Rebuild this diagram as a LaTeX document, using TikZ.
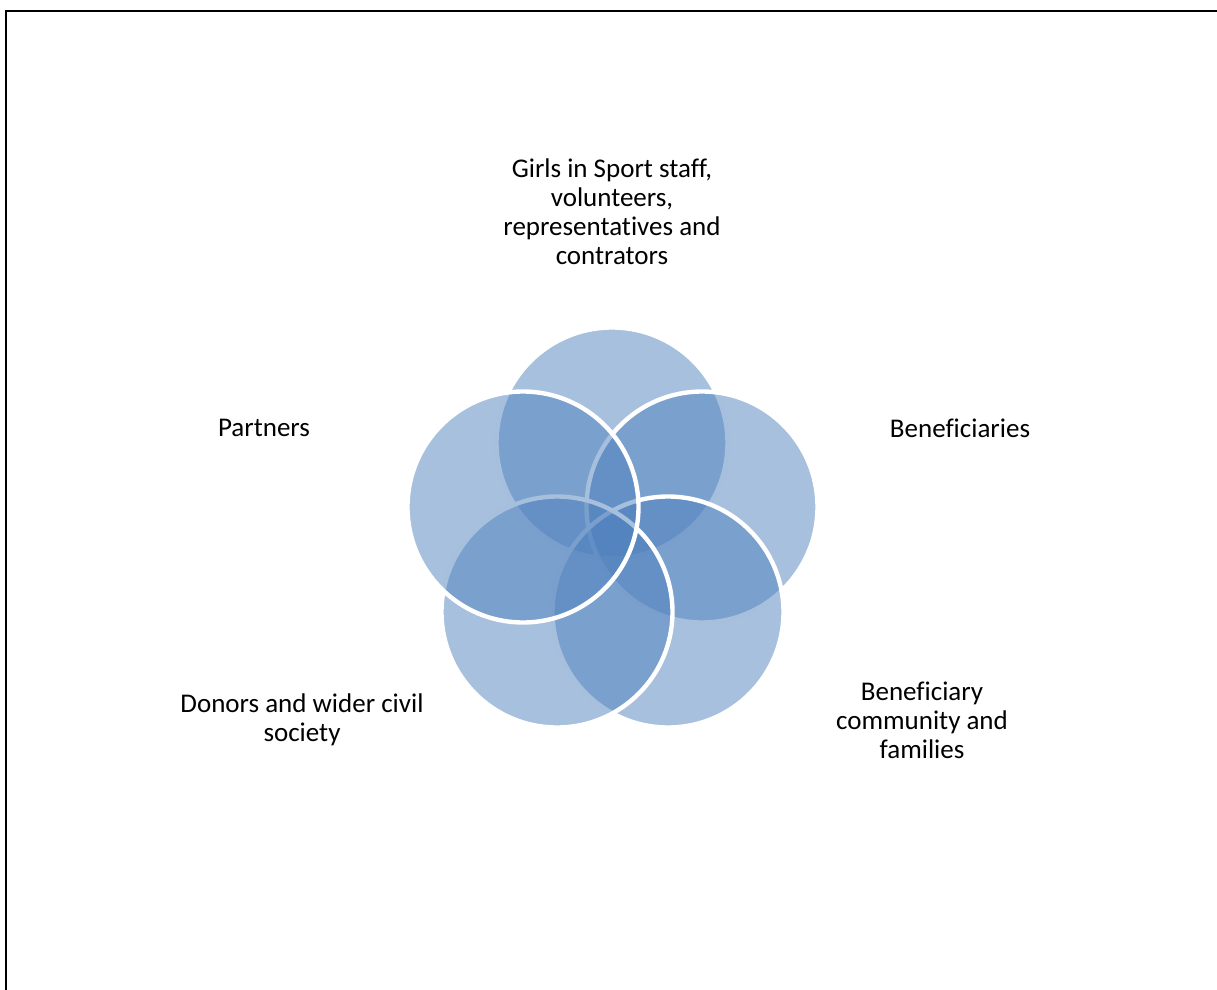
\documentclass[tikz,border=0pt]{standalone}
\usepackage{fontspec}
\setmainfont{Carlito}[Ligatures=NoCommon]
\definecolor{vennblue}{RGB}{79,129,189}

\begin{document}
\begin{tikzpicture}[x=0.5pt, y=-0.5pt,
    venn/.style={circle, minimum size=115.5pt, inner sep=0pt, fill=vennblue, fill opacity=0.5,
                 draw=white, draw opacity=1, line width=2.2pt},
    lbl/.style={align=center, font=\fontsize{13.5}{14.5}\selectfont, inner sep=0pt}]
  % page area and the frame around it
  \clip (0,0) rectangle (1217,990);
  \draw[line width=0.9pt] (6,1020) -- (6,11) -- (1240,11);

  % five overlapping circles, later ones on top
  \node[venn] (staff) at (612,443) {};
  \node[venn] (benef) at (702,507) {};
  \node[venn] (community) at (668,612) {};
  \node[venn] (donors) at (557,612) {};
  \node[venn] (partners) at (523,507) {};

  % labels
  \node[lbl] (staff text) at (612,212) {Girls in Sport staff,\\volunteers,\\representatives and\\contrators};
  \node[lbl] (benef text) at (960,428) {Beneficiaries};
  \node[lbl] (community text) at (922,720) {Beneficiary\\community and\\families};
  \node[lbl] (donors text) at (302,720) {Donors and wider civil\\society};
  \node[lbl] (partners text) at (264,428) {Partners};
\end{tikzpicture}
\end{document}
